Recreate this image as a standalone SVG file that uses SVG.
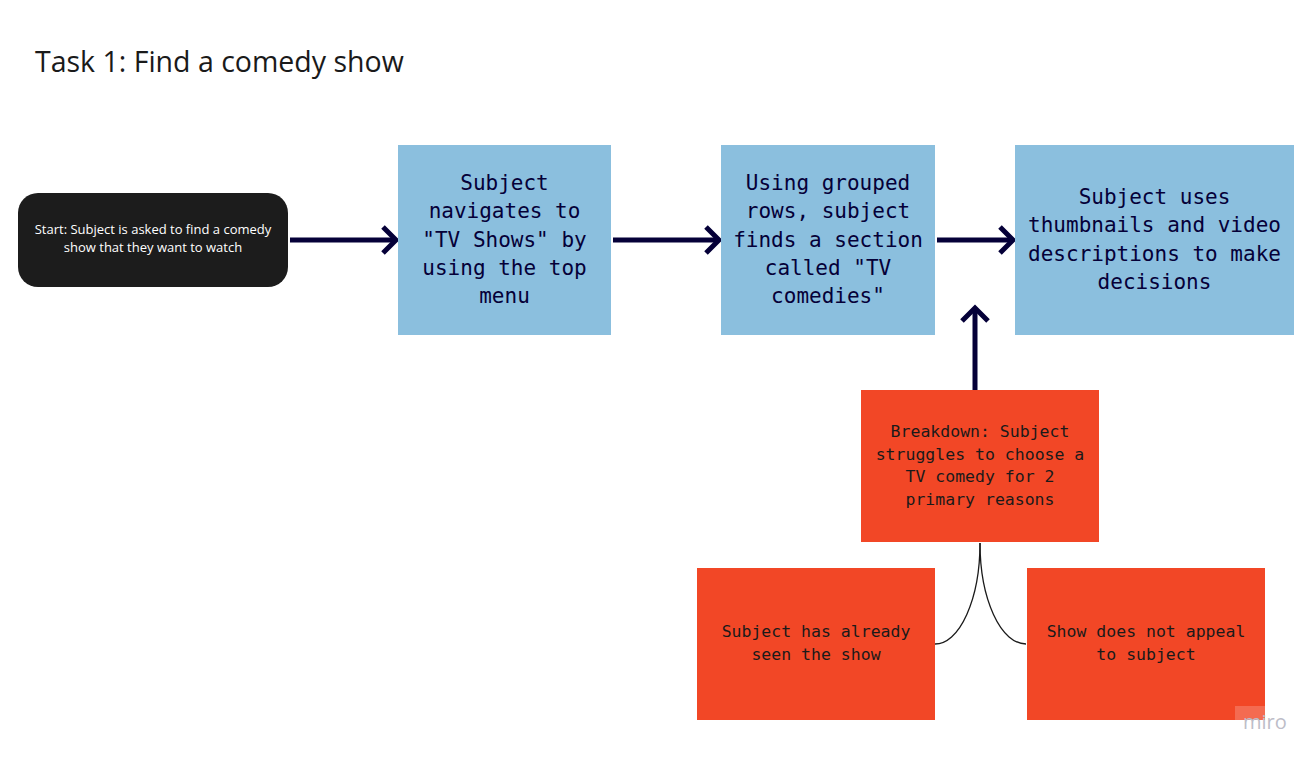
<svg xmlns="http://www.w3.org/2000/svg" width="1316" height="759" viewBox="0 0 1316 759">
<style>
.title{font-family:"Open Sans","Noto Sans",sans-serif;font-size:28.5px;fill:#1a1a1a}
.start{font-family:"Open Sans","Noto Sans",sans-serif;font-size:13px;fill:#ffffff;text-anchor:middle}
.blue{fill:#8bbfde}
.red{fill:#f24726}
.bt{font-family:"DejaVu Sans Mono","Liberation Mono",monospace;font-size:21px;fill:#050038;text-anchor:middle}
.rt{font-family:"DejaVu Sans Mono","Liberation Mono",monospace;font-size:16.5px;fill:#1a1a1a;text-anchor:middle}
.arrow{stroke:#050038;stroke-width:5;fill:none}
.head{stroke:#050038;stroke-width:5;fill:none;stroke-linejoin:miter}
.thin{stroke:#1a1a1a;stroke-width:1.3;fill:none}
</style>
<rect width="1316" height="759" fill="#ffffff"/>
<text class="title" x="35" y="71.5">Task 1: Find a comedy show</text>

<g id="connectors">
<line class="arrow" x1="290" y1="240" x2="393" y2="240"/>
<polyline class="head" points="383,227 396,240 383,253"/>
<line class="arrow" x1="613" y1="240" x2="716" y2="240"/>
<polyline class="head" points="706,227 719,240 706,253"/>
<line class="arrow" x1="937" y1="240" x2="1010" y2="240"/>
<polyline class="head" points="1000,227 1013,240 1000,253"/>
<line class="arrow" x1="975" y1="390" x2="975" y2="311"/>
<polyline class="head" points="962,321 975,308 988,321"/>
<path class="thin" d="M980,543 A45,101 0 0,1 935,644"/>
<path class="thin" d="M980,543 A46,101 0 0,0 1026,644"/>
</g>

<g id="start">
<rect x="18" y="193" width="270" height="94" rx="20" fill="#1c1c1c"/>
<text class="start" x="153" y="234">Start: Subject is asked to find a comedy</text>
<text class="start" x="153" y="252">show that they want to watch</text>
</g>

<g id="navigate">
<rect class="blue" x="398" y="145" width="213" height="190"/>
<text class="bt" x="504.5" y="190">Subject</text>
<text class="bt" x="504.5" y="218">navigates to</text>
<text class="bt" x="504.5" y="247">"TV Shows" by</text>
<text class="bt" x="504.5" y="275">using the top</text>
<text class="bt" x="504.5" y="303">menu</text>
</g>

<g id="grouped">
<rect class="blue" x="721" y="145" width="214" height="190"/>
<text class="bt" x="828" y="190">Using grouped</text>
<text class="bt" x="828" y="218">rows, subject</text>
<text class="bt" x="828" y="247">finds a section</text>
<text class="bt" x="828" y="275">called "TV</text>
<text class="bt" x="828" y="303">comedies"</text>
</g>

<g id="thumbnails">
<rect class="blue" x="1015" y="145" width="279" height="190"/>
<text class="bt" x="1154.5" y="204">Subject uses</text>
<text class="bt" x="1154.5" y="232">thumbnails and video</text>
<text class="bt" x="1154.5" y="261">descriptions to make</text>
<text class="bt" x="1154.5" y="289">decisions</text>
</g>

<g id="breakdown">
<rect class="red" x="861" y="390" width="238" height="152"/>
<text class="rt" x="980" y="437">Breakdown: Subject</text>
<text class="rt" x="980" y="460">struggles to choose a</text>
<text class="rt" x="980" y="482">TV comedy for 2</text>
<text class="rt" x="980" y="505">primary reasons</text>
</g>

<g id="seen">
<rect class="red" x="697" y="568" width="238" height="152"/>
<text class="rt" x="816" y="637">Subject has already</text>
<text class="rt" x="816" y="660">seen the show</text>
</g>

<g id="appeal">
<rect class="red" x="1027" y="568" width="238" height="152"/>
<text class="rt" x="1146" y="637">Show does not appeal</text>
<text class="rt" x="1146" y="660">to subject</text>
</g>

<rect x="1235" y="706" width="56" height="28" fill="#ffffff" opacity="0.2"/>
<text x="1243" y="729" font-family="Open Sans, sans-serif" font-size="20" fill="#bdbdc8">miro</text>
</svg>
